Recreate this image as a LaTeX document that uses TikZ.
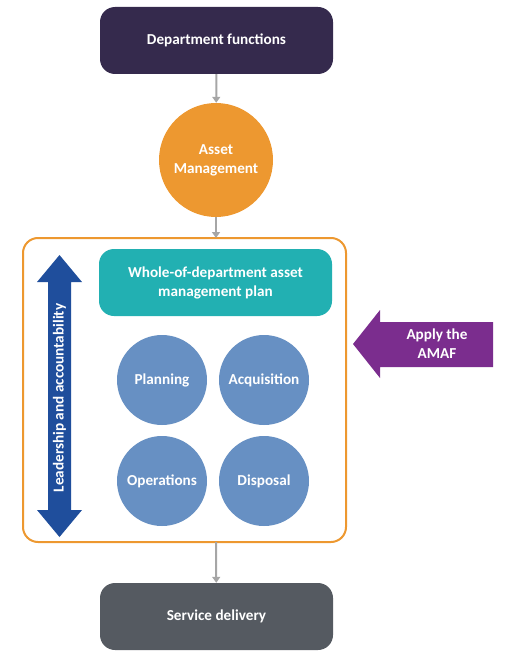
\documentclass[tikz,border=0pt]{standalone}
\usepackage{fontspec}
\setmainfont{Carlito}
\usetikzlibrary{arrows.meta,shapes.arrows}
\definecolor{deptc}{HTML}{352A4D}
\definecolor{amc}{HTML}{ED9830}
\definecolor{tealc}{HTML}{22B0B2}
\definecolor{circc}{HTML}{6790C3}
\definecolor{bluec}{HTML}{1F4E9C}
\definecolor{purpc}{HTML}{7B2D8E}
\definecolor{servc}{HTML}{555A61}
\definecolor{linec}{HTML}{A6A6A6}
\begin{document}
\begin{tikzpicture}[x=1pt,y=-1pt,
  txt/.style={text=white,font=\fontsize{15.2}{19}\selectfont\bfseries,align=center},
  bigbox/.style={txt,rounded corners=15pt,minimum width=233pt,minimum height=67pt,inner sep=0pt},
  phase/.style={txt,circle,fill=circc,minimum size=90pt,inner sep=0pt},
  conn/.style={draw=linec,line width=2pt,-{Triangle[length=6pt,width=8pt]}}]
\useasboundingbox (0,0) rectangle (513,658);
\node[bigbox,fill=deptc] (dept) at (216.5,40.5) {Department functions};
\node[txt,circle,fill=amc,minimum size=114pt,inner sep=0pt] (am) at (216,160) {Asset\\Management};
\draw[draw=amc,line width=2pt,rounded corners=15pt,fill=white] (23,238) rectangle (346,542);
\coordinate (boxtop) at (216,238);
\coordinate (boxbot) at (216,542);
\node[bigbox,fill=tealc] (plan) at (215.5,282.5) {Whole-of-department asset\\management plan};
\node[phase] (planning) at (162,380) {Planning};
\node[phase] (acq) at (264,380) {Acquisition};
\node[phase] (ops) at (162,481) {Operations};
\node[phase] (disp) at (264,481) {Disposal};
\fill[bluec] (59.5,255) -- (82,282) -- (71,282) -- (71,510) -- (82,510) -- (59.5,537) -- (37,510) -- (48,510) -- (48,282) -- (37,282) -- cycle;
\node[txt,rotate=90] (lead) at (59.5,398) {Leadership and accountability};
\fill[purpc] (353,344) -- (380,310) -- (380,322) -- (493,322) -- (493,367) -- (380,367) -- (380,378) -- cycle;
\node[txt] (amaf) at (437,344) {Apply the\\AMAF};
\node[bigbox,fill=servc] (serv) at (216.5,616.5) {Service delivery};
\draw[conn] (dept) -- (am);
\draw[conn] (am) -- (boxtop);
\draw[conn] (boxbot) -- (serv);
\end{tikzpicture}
\end{document}
